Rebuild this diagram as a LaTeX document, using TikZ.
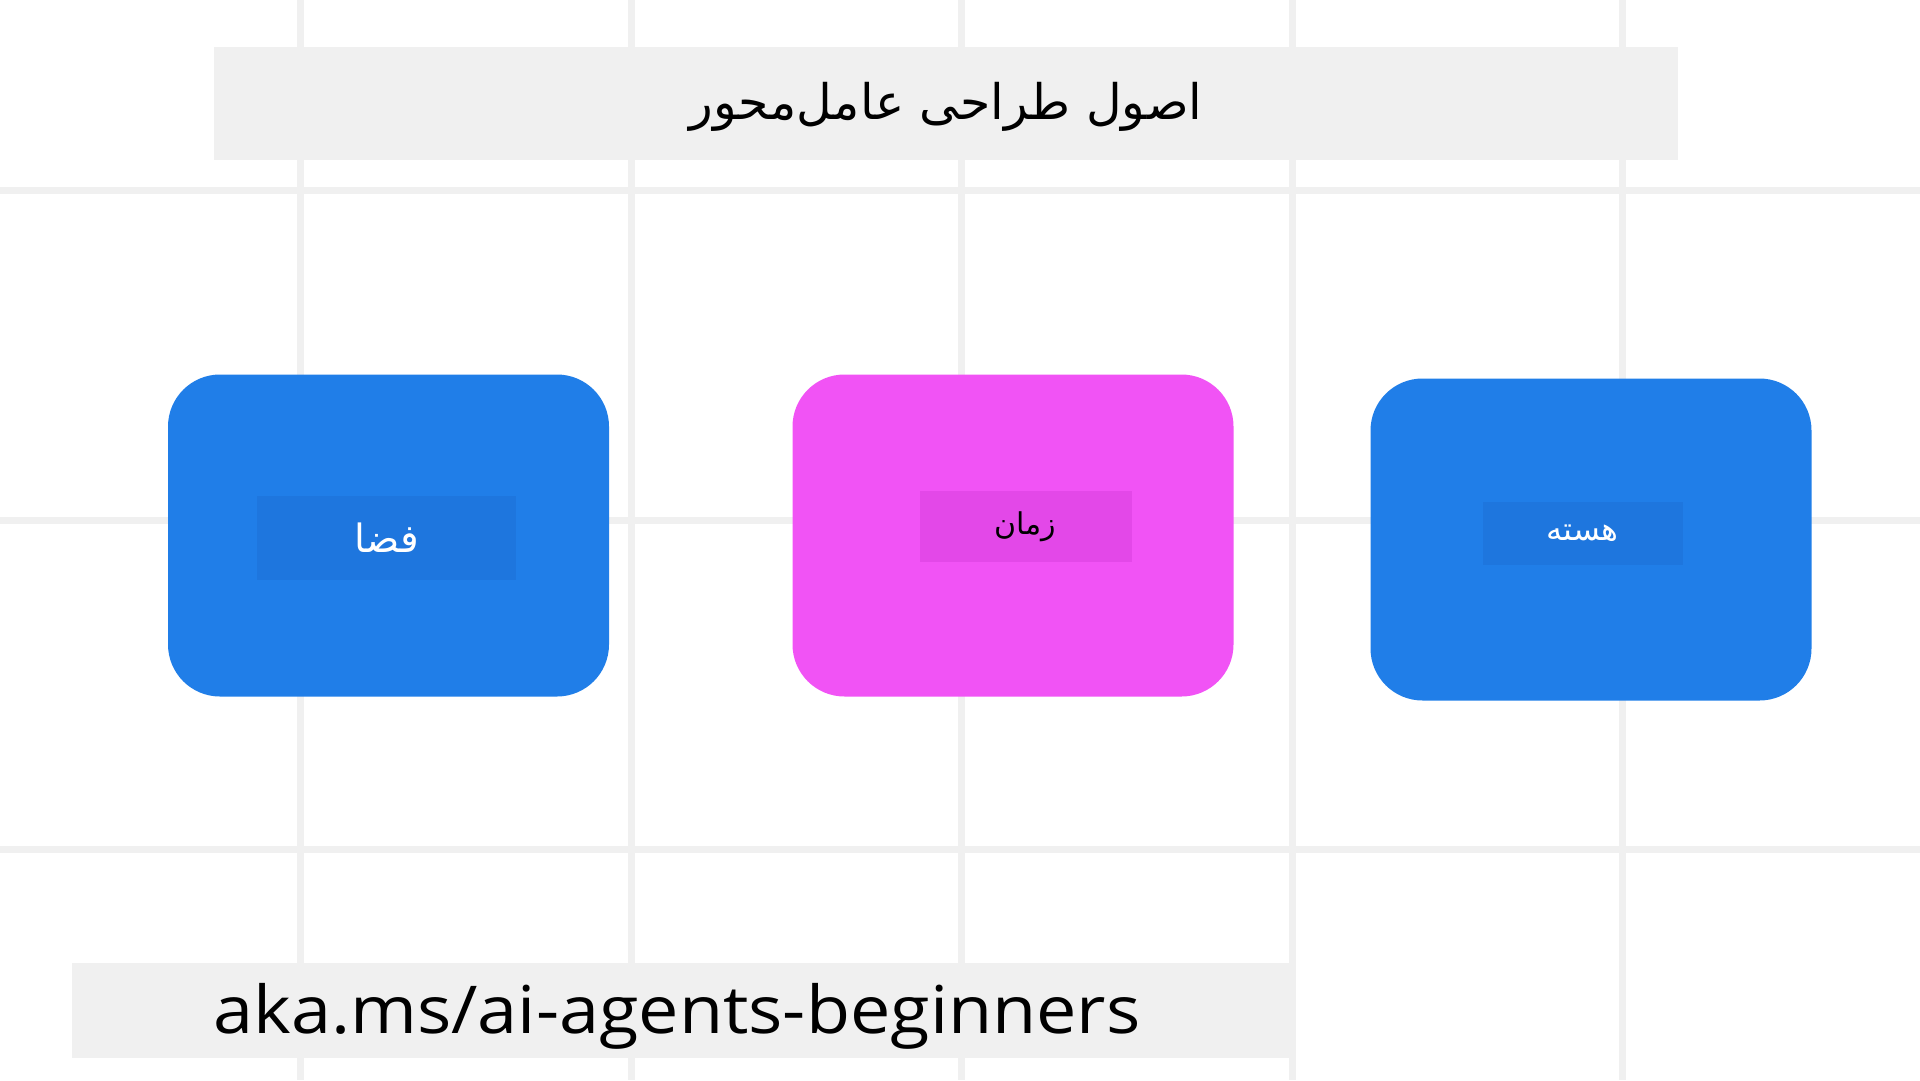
\documentclass[tikz,border=0pt]{standalone}
\usepackage{fontspec}
\setmainfont{Open Sans}
\newfontfamily\arabicfont[Script=Arabic]{DejaVu Sans}
\newfontfamily\linkfont[FakeStretch=1.09]{Open Sans}
\TeXXeTstate=1
\usepackage{tikz}
\usetikzlibrary{positioning}

\definecolor{gridgray}{HTML}{F0F0F0}
\definecolor{bandgray}{HTML}{F0F0F0}
\definecolor{cardblue}{HTML}{207EE8}
\definecolor{labelblue}{HTML}{1E76DE}
\definecolor{cardpink}{HTML}{F153F5}
\definecolor{labelpink}{HTML}{E348E8}

\begin{document}
\begin{tikzpicture}[x=1pt, y=-1pt,
gridline/.style={draw=gridgray, line width=7pt},
band/.style={fill=bandgray, inner sep=0pt, anchor=north west},
card/.style={rounded corners=52pt, inner sep=0pt, minimum width=441pt, minimum height=322pt},
labelbox/.style={inner sep=0pt}]
\useasboundingbox [fill=white] (0,0) rectangle (1920,1080);
\foreach \gx in {300,631,961,1292,1622}
\draw [gridline] (\gx,0) -- (\gx,1080);
\foreach \gy in {190,520,849}
\draw [gridline] (0,\gy) -- (1920,\gy);

\node (titleband) [band, minimum width=1464pt, minimum height=113pt] at (214,47) {};
\node (title) at (946,107) {\fontsize{49}{58}\selectfont\arabicfont\beginR اصول طراحی عامل‌محور\endR};

\node (faza) [card, fill=cardblue] at (388.5,535.5) {};
\node (zaman) [card, fill=cardpink] at (1013,535.5) {};
\node (hasteh) [card, fill=cardblue] at (1591,539.5) {};

\node (fazalabel) [labelbox, fill=labelblue, minimum width=259pt, minimum height=84pt] at (386.5,538) {};
\node [text=white] at (fazalabel.center) {\fontsize{39}{46}\selectfont\arabicfont\beginR فضا\endR};
\node (zamanlabel) [labelbox, fill=labelpink, minimum width=212pt, minimum height=71pt] at (1025.5,526.5) {};
\node [text=black] at (zamanlabel.center) {\fontsize{30}{36}\selectfont\arabicfont\beginR زمان\endR};
\node (hastehlabel) [labelbox, fill=labelblue, minimum width=200pt, minimum height=63pt] at (1582.5,533.5) {};
\node [text=white] at (hastehlabel.center) {\fontsize{32}{38}\selectfont\arabicfont\beginR هسته\endR};

\node (linkband) [band, minimum width=1218pt, minimum height=95pt] at (72,963) {};
\node (link) at (677,1016) {\fontsize{66}{78}\selectfont\linkfont aka.ms/ai-agents-beginners};
\end{tikzpicture}
\end{document}
